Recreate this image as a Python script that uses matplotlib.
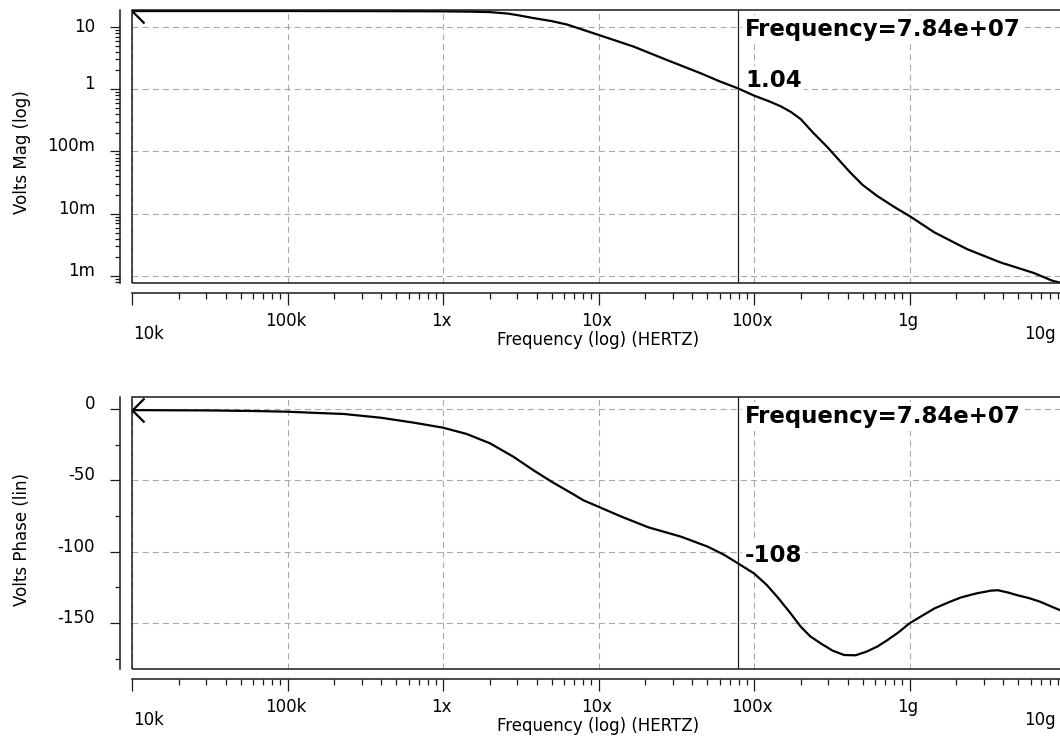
import numpy as np
import matplotlib
matplotlib.use("Agg")
import matplotlib.pyplot as plt
from matplotlib.path import Path
from matplotlib.patches import Rectangle
from matplotlib.transforms import ScaledTranslation, blended_transform_factory
from matplotlib.ticker import LogLocator, MultipleLocator, NullFormatter

plt.rcParams['font.family'] = ['DejaVu Sans']
plt.rcParams['lines.scale_dashes'] = False

# ---- AC sweep results ----
mag_freq = [1e4, 1e5, 5e5, 1e6, 1.5e6, 2e6, 2.6e6, 3e6, 3.8e6, 5e6, 6.3e6, 1e7,
            1.68e7, 2.74e7, 4.5e7, 6.04e7, 7.84e7, 1e8, 1.25e8, 1.49e8, 1.73e8,
            2e8, 2.4e8, 2.96e8, 3.5e8, 4.16e8, 5e8, 6.2e8, 8e8, 1e9, 1.45e9,
            2.35e9, 3.83e9, 6.3e9, 8.3e9, 1e10]
mag_volts = [18.0, 18.0, 17.9, 17.8, 17.6, 17.3, 16.4, 15.5, 13.9, 12.4, 10.9, 7.45,
             4.84, 2.96, 1.82, 1.33, 1.04, 0.79, 0.64, 0.53, 0.43,
             0.33, 0.2, 0.118, 0.074, 0.046, 0.029, 0.0193, 0.0128, 0.0092, 0.005,
             0.0027, 0.00166, 0.00112, 0.00084, 0.00075]

phase_freq = [1e4, 3e4, 6e4, 1e5, 1.41e5, 2.3e5, 3.97e5, 6.5e5, 1e6, 1.42e6, 2e6,
              2.83e6, 3.8e6, 5e6, 6.9e6, 8e6, 1e7, 1.41e7, 2.09e7, 3.4e7, 5.05e7,
              6.45e7, 7.84e7, 1e8, 1.2e8, 1.41e8, 1.7e8, 2e8, 2.3e8, 2.69e8, 3.2e8,
              3.8e8, 4.5e8, 5.3e8, 6.2e8, 7.2e8, 8.5e8, 1e9, 1.2e9, 1.45e9, 1.8e9,
              2.15e9, 2.7e9, 3.34e9, 3.7e9, 4.3e9, 4.9e9, 5.9e9, 6.9e9, 8e9, 9.3e9, 1e10]
phase_deg = [-0.8, -1.0, -1.4, -1.9, -2.6, -3.5, -6.1, -9.6, -13.1, -17.5, -24.0,
             -33.4, -42.8, -51.0, -59.8, -64.0, -68.5, -75.5, -82.9, -89.5, -96.5,
             -102.3, -108.0, -115.2, -123.0, -131.6, -142.5, -152.6, -159.3, -164.3, -169.3,
             -172.4, -172.6, -170.0, -166.5, -162.0, -156.5, -150.2, -145.0, -139.7, -135.3,
             -132.0, -129.2, -127.3, -127.0, -128.6, -130.4, -132.6, -135.0, -138.0, -141.0, -142.0]

cursor_freq = 7.84e7
cursor_mag = 1.04
cursor_phase = -108

freq_ticks = [1e4, 1e5, 1e6, 1e7, 1e8, 1e9, 1e10]
freq_labels = ['10k', '100k', '1x', '10x', '100x', '1g', '10g']
mag_ticks = [10, 1, 0.1, 0.01, 0.001]
mag_labels = ['10', '1', '100m', '10m', '1m']
phase_ticks = [0, -50, -100, -150]
phase_labels = ['0', '-50', '-100', '-150']

W, H = 1060, 740
DPI = 100
fig = plt.figure(figsize=(W / DPI, H / DPI), dpi=DPI)
fig.patch.set_facecolor('white')

INK = '#1a1a1a'
GRID = '#a8a8a8'
PT = 72.0 / DPI  # points per pixel


def px_axes(left, top, right, bottom):
    return fig.add_axes([left / W, 1 - bottom / H, (right - left) / W, (bottom - top) / H])


def shift(dx, dy):
    # pixel offset, dy positive = downwards
    return ScaledTranslation(dx / DPI, -dy / DPI, fig.dpi_scale_trans)


arrow = Path([(1, 1), (0, 0), (1, -1)], [Path.MOVETO, Path.LINETO, Path.LINETO])


def panel(ax, freq, vals, ylog, ylim, yticks, ylabels, ylabel, ylabel_y,
          cursor_val, cursor_txt):
    ax.set_xscale('log')
    ax.set_xlim(1e4, 1e10)
    if ylog:
        ax.set_yscale('log')
    ax.set_ylim(*ylim)

    for s in ['top', 'right']:
        ax.spines[s].set_visible(False)
    ax.spines['left'].set_position(('outward', 12 * PT))
    ax.spines['bottom'].set_position(('outward', 10 * PT))
    for s in ['left', 'bottom']:
        ax.spines[s].set_linewidth(1.1)
        ax.spines[s].set_color(INK)
    ax.add_patch(Rectangle((0, 0), 1, 1, transform=ax.transAxes, fill=False,
                           lw=1.1, ec=INK, clip_on=False, zorder=6))

    ax.set_xticks(freq_ticks)
    ax.xaxis.set_minor_locator(LogLocator(base=10, subs=np.arange(2, 10), numticks=100))
    ax.xaxis.set_minor_formatter(NullFormatter())
    ax.set_yticks(yticks)
    if ylog:
        ax.yaxis.set_minor_locator(LogLocator(base=10, subs=np.arange(2, 10), numticks=100))
    else:
        ax.yaxis.set_minor_locator(MultipleLocator(25))
    ax.yaxis.set_minor_formatter(NullFormatter())
    ax.tick_params(axis='x', which='major', direction='out', length=12 * PT,
                   width=0.9, color=INK, labelbottom=False)
    ax.tick_params(axis='x', which='minor', direction='out', length=6 * PT,
                   width=0.9, color=INK)
    ax.tick_params(axis='y', which='major', direction='out', length=10 * PT,
                   width=0.9, color=INK, labelleft=False)
    ax.tick_params(axis='y', which='minor', direction='out', length=5 * PT,
                   width=0.9, color=INK)

    ax.grid(True, which='major', color=GRID, lw=0.8, ls=(0, (4.3, 3.0)), zorder=1)
    ax.set_axisbelow(True)

    # x tick labels
    xt = blended_transform_factory(ax.transData, ax.transAxes)
    n = len(freq_ticks)
    for i, (f, lab) in enumerate(zip(freq_ticks, freq_labels)):
        if i == 0:
            ax.text(f, 0, lab, transform=xt + shift(1, 56), ha='left', va='baseline',
                    fontsize=12, clip_on=False)
        elif i == n - 1:
            ax.text(f, 0, lab, transform=xt + shift(-9, 56), ha='right', va='baseline',
                    fontsize=12, clip_on=False)
        else:
            ax.text(f, 0, lab, transform=xt + shift(-2, 43), ha='center', va='baseline',
                    fontsize=12, clip_on=False)
    ax.text(0.5, 0, 'Frequency (log) (HERTZ)', transform=ax.transAxes + shift(0, 62),
            ha='center', va='baseline', fontsize=12, clip_on=False)

    # y tick labels; a label sitting right under the top edge is nudged down
    yt = blended_transform_factory(ax.transAxes, ax.transData)
    ytop = ax.transData.transform((1e4, ylim[1]))[1]
    for v, lab in zip(yticks, ylabels):
        ypix = ax.transData.transform((1e4, v))[1]
        drop = 5 if (ytop - ypix) > 12 and (ytop - ypix) < 24 else 0
        ax.text(0, v, lab, transform=yt + shift(-37, drop), ha='right', va='baseline',
                fontsize=12, clip_on=False)
    fig.text(22 / W, 1 - ylabel_y / H, ylabel, rotation=90, ha='center', va='center',
             fontsize=12)

    # trace with start marker
    ax.plot(freq, vals, color='black', lw=1.6, zorder=4, solid_joinstyle='round')
    ax.plot([freq[0]], [vals[0]], marker=arrow, ms=24 * PT, mfc='none', mec='black',
            mew=1.6, ls='none', zorder=4)

    # cursor
    ax.axvline(cursor_freq, color='#202020', lw=0.9, zorder=5)
    ax.text(cursor_freq, 1, 'Frequency=7.84e+07', transform=xt + shift(7.5, 26),
            ha='left', va='baseline', fontsize=16.5, fontweight='bold', zorder=3,
            bbox=dict(facecolor='white', edgecolor='none', pad=2))
    ax.text(cursor_freq, cursor_val, cursor_txt, transform=ax.transData + shift(7.5, -1),
            ha='left', va='baseline', fontsize=16.5, fontweight='bold', zorder=3,
            bbox=dict(facecolor='white', edgecolor='none', pad=2))


ax1 = px_axes(132, 10, 1065, 283)
panel(ax1, mag_freq, mag_volts, True, (7.73e-4, 18.7), mag_ticks, mag_labels,
      'Volts Mag (log)', 152, cursor_mag, f'{cursor_mag:.2f}')

ax2 = px_axes(132, 397, 1065, 669)
panel(ax2, phase_freq, phase_deg, False, (-182.2, 8.4), phase_ticks, phase_labels,
      'Volts Phase (lin)', 539, cursor_phase, f'{cursor_phase:d}')

fig.savefig('out.png', dpi=DPI, facecolor='white')
